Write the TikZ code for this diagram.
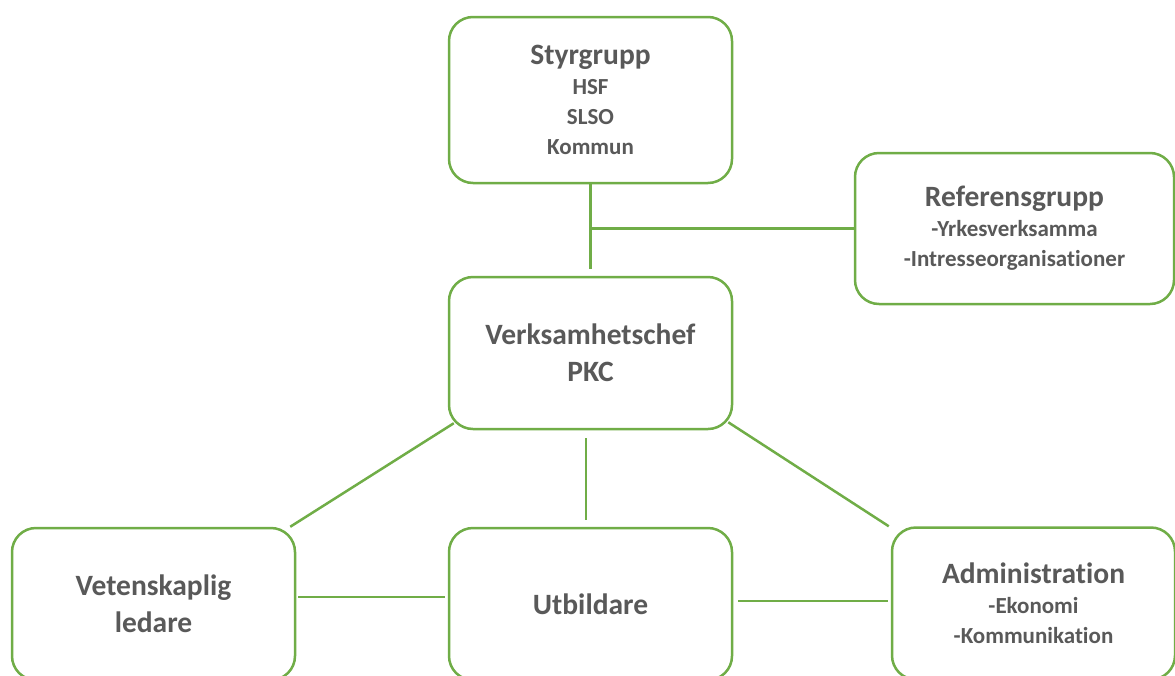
\documentclass[tikz,border=0pt]{standalone}
\usepackage{fontspec}
\setmainfont{Carlito}[Ligatures=NoCommon]
\usepackage{tikz}
\usetikzlibrary{positioning}
\usepackage{xcolor}
\definecolor{orggreen}{HTML}{70AD47}
\definecolor{orggray}{HTML}{595959}
\newcommand{\hdfnt}{\fontsize{29.5}{37}\selectfont}
\newcommand{\subfnt}{\fontsize{23}{30}\selectfont}

\begin{document}
\begin{tikzpicture}[x=1pt, y=-1pt,
    orgbox/.style={draw=orggreen, line width=2.5pt, rounded corners=24pt,
                   fill=white, text=orggray, align=center,
                   font=\bfseries\subfnt, minimum width=283pt, minimum height=152pt},
    link/.style={draw=orggreen, line width=2.5pt}]
            \useasboundingbox (0,0) rectangle (1175,675);
            % Top: steering group
            \node[orgbox, minimum height=166pt] (styr) at (590.5,100)
                  {{\hdfnt Styrgrupp}\\HSF\\SLSO\\Kommun};
            % Reference group at the side
            \node[orgbox, minimum width=319pt, minimum height=151pt] (ref) at (1014.5,228.5)
                  {{\hdfnt Referensgrupp}\\-Yrkesverksamma\\-Intresseorganisationer};
            % Head of operations
            \node[orgbox, font=\bfseries\hdfnt] (verk) at (590.5,353)
                  {Verksamhetschef\\PKC};
            % Three boxes at the bottom
            \node[orgbox, font=\bfseries\hdfnt] (vet) at (153.5,604)
                  {Vetenskaplig\\ledare};
            \node[orgbox, font=\bfseries\hdfnt] (utb) at (590.5,604)
                  {Utbildare};
            \node[orgbox] (adm) at (1033.5,603.5)
                  {{\hdfnt Administration}\\-Ekonomi\\-Kommunikation};
            % Line from steering group down, with branch to reference group
            \coordinate (jn) at (styr.south |- ref.west);
            \draw[link, shorten >=7pt] (styr.south) -- (verk.north);
            \draw[link] (jn) -- (ref.west);
            % Lines from head of operations to the bottom row
            \draw[link] ([shift={(6,-7)}]verk.south west) -- ([shift={(-6,0)}]vet.north east);
            \draw[link] ([shift={(-4.5,8)}]verk.south) -- ([shift={(-4.5,-7)}]utb.north);
            \draw[link] ([shift={(-5,-8)}]verk.south east) -- ([shift={(-2,0)}]adm.north west);
            % Lines along the bottom row
            \draw[link] ([shift={(2,-7)}]vet.east) -- ([shift={(-3,-7)}]utb.west);
            \draw[link] ([shift={(5,-3)}]utb.east) -- ([shift={(-3,-2.5)}]adm.west);
          \end{tikzpicture}
\end{document}
